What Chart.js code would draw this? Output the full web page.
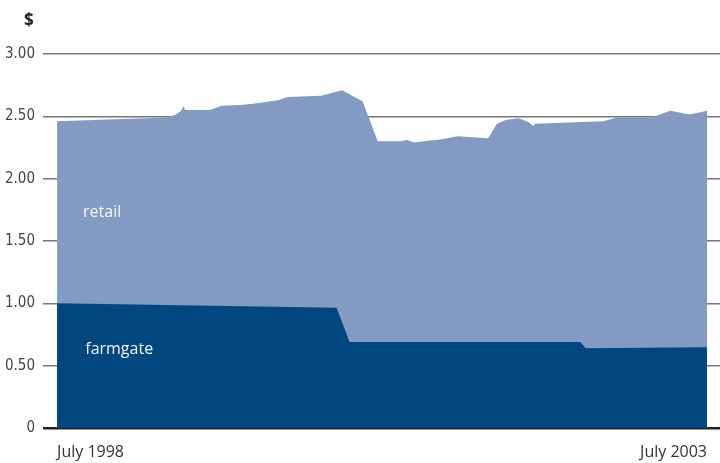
<!DOCTYPE html>
<html>
<head>
<meta charset="utf-8">
<script src="https://cdn.jsdelivr.net/npm/chart.js@4"></script>
<style>
  html, body { margin: 0; padding: 0; background: #fff; }
  #wrap { width: 720px; height: 463px; position: relative; }
</style>
</head>
<body>
<div id="wrap"><canvas id="chart"></canvas></div>
<script>
// months since July 1998
const retailMonths = [0, 8.1, 10, 10.9, 11.4, 11.7, 11.8, 14.1, 15.2, 16.9, 18.1, 20.4, 21.3, 24.4, 26.3, 28.2, 29.6, 31.7, 32.3, 33.0, 34.2, 35.4, 37.0, 39.8, 40.6, 41.4, 42.6, 43.5, 44.0, 44.1, 50.4, 51.7, 54.9, 56.6, 58.4, 60];
const retailValues = [2.46, 2.485, 2.49, 2.51, 2.54, 2.58, 2.55, 2.55, 2.585, 2.59, 2.60, 2.63, 2.655, 2.665, 2.71, 2.62, 2.30, 2.30, 2.31, 2.29, 2.305, 2.315, 2.34, 2.325, 2.44, 2.47, 2.485, 2.455, 2.42, 2.44, 2.46, 2.49, 2.49, 2.545, 2.515, 2.545];

const farmMonths = [0, 25.8, 27.0, 48.3, 48.8, 60];
const farmValues = [1.00, 0.965, 0.69, 0.69, 0.64, 0.648];

const xTickMonths = [0, 60];
const xTickLabels = ['July 1998', 'July 2003'];

function points(xs, ys) {
  return xs.map((x, i) => ({ x: x, y: ys[i] }));
}

const labelsPlugin = {
  id: 'labels',
  afterDraw(chart) {
    const ctx = chart.ctx;
    const x = chart.scales.x;
    const y = chart.scales.y;
    ctx.save();
    ctx.textBaseline = 'middle';
    ctx.textAlign = 'left';
    ctx.fillStyle = '#222';
    ctx.font = 'bold 17px "Open Sans", sans-serif';
    ctx.fillText('$', 24, 21);
    ctx.fillStyle = '#f4f6fa';
    ctx.font = '16px "Open Sans", sans-serif';
    ctx.fillText('retail', x.getPixelForValue(2.4), y.getPixelForValue(1.728));
    ctx.fillText('farmgate', x.getPixelForValue(2.6), y.getPixelForValue(0.632));
    ctx.restore();
  }
};

new Chart(document.getElementById('chart'), {
  type: 'line',
  data: {
    datasets: [
      {
        label: 'farmgate',
        data: points(farmMonths, farmValues),
        backgroundColor: '#00467f',
        borderWidth: 0,
        pointRadius: 0,
        fill: 'origin'
      },
      {
        label: 'retail',
        data: points(retailMonths, retailValues),
        backgroundColor: '#839bc2',
        borderWidth: 0,
        pointRadius: 0,
        fill: 'origin'
      }
    ]
  },
  options: {
    responsive: true,
    maintainAspectRatio: false,
    animation: false,
    layout: { padding: { top: 54, left: 0, right: 0, bottom: 0 } },
    plugins: {
      legend: { display: false },
      tooltip: { enabled: false }
    },
    scales: {
      x: {
        type: 'linear',
        min: -1.3,
        max: 61.2,
        afterBuildTicks: (scale) => {
          scale.ticks = xTickMonths.map(v => ({ value: v }));
        },
        afterFit: (scale) => { scale.height = 35; },
        grid: { display: false },
        border: { display: false },
        ticks: {
          align: 'inner',
          maxRotation: 0,
          autoSkip: false,
          padding: 7,
          color: '#333',
          font: { family: '"Open Sans", sans-serif', size: 16 },
          callback: (v) => xTickLabels[xTickMonths.indexOf(v)]
        }
      },
      y: {
        min: 0,
        max: 3,
        afterFit: (scale) => { scale.width = 43; },
        border: { display: false },
        grid: {
          drawTicks: false,
          color: (c) => c.tick.value === 0 ? '#222' : '#777',
          lineWidth: (c) => c.tick.value === 0 ? 2.5 : 1.5
        },
        ticks: {
          stepSize: 0.5,
          padding: 8,
          color: '#444',
          font: { family: '"Liberation Sans Narrow", "DejaVu Sans Condensed", sans-serif', size: 15 },
          callback: (v) => v === 0 ? '0' : v.toFixed(2)
        }
      }
    }
  },
  plugins: [labelsPlugin]
});
</script>
</body>
</html>
